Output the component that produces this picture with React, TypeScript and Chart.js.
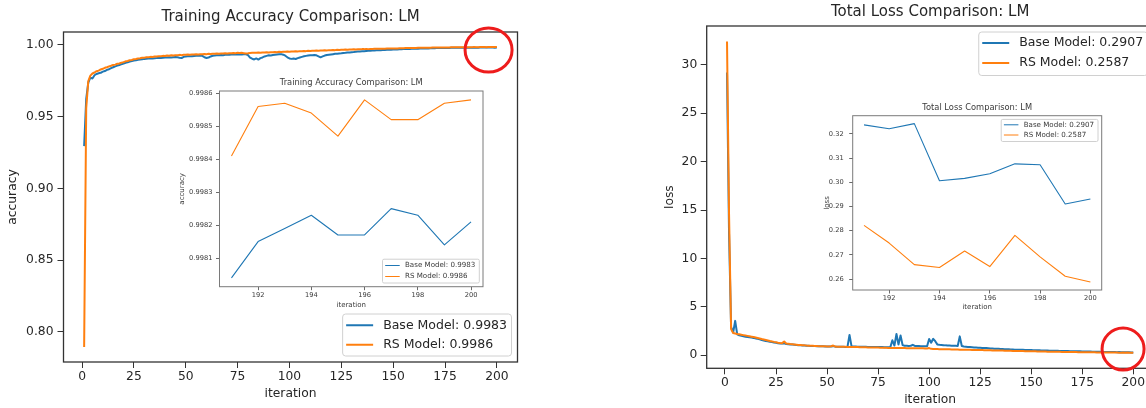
import React, { useEffect, useRef } from "react";
import { Chart, registerables } from "chart.js";

Chart.register(...registerables);

const FONT_FAMILY = '"DejaVu Sans", "Liberation Sans", sans-serif';
const BLUE = "#1f77b4";
const ORANGE = "#ff7f0e";

// iterations 1..200 (x categories)
const ITERATIONS: number[] = Array.from({ length: 200 }, (_, i) => i + 1);

const ACC_BASE = [
  0.9295, 0.9625, 0.9738, 0.9772, 0.9766, 0.9789, 0.9798, 0.9803, 0.9806, 0.9814,
  0.9818, 0.9826, 0.9831, 0.9839, 0.9845, 0.9851, 0.9856, 0.986, 0.9866, 0.987,
  0.9876, 0.9879, 0.9884, 0.9888, 0.9892, 0.9894, 0.9897, 0.9899, 0.99, 0.9903,
  0.9904, 0.9905, 0.9907, 0.9906, 0.9908, 0.9909, 0.9911, 0.9909, 0.991, 0.9912,
  0.9913, 0.9914, 0.9913, 0.9915, 0.9916, 0.9914, 0.9911, 0.9909, 0.9917, 0.992,
  0.9921, 0.9922, 0.9921, 0.9923, 0.9924, 0.9925, 0.9926, 0.9924, 0.9914, 0.9909,
  0.9912, 0.992, 0.9925, 0.9927, 0.9928, 0.9929, 0.993, 0.9929, 0.9931, 0.9932,
  0.9931, 0.9933, 0.9934, 0.9933, 0.9934, 0.9935, 0.9934, 0.9936, 0.9935, 0.993,
  0.9912, 0.9904, 0.9899, 0.9906, 0.9898, 0.9908, 0.9913, 0.992, 0.9924, 0.9928,
  0.9927, 0.993, 0.9932, 0.9934, 0.9935, 0.9936, 0.9932, 0.9925, 0.9914, 0.9906,
  0.9903, 0.9905, 0.9902, 0.9908, 0.9913, 0.9917, 0.9921, 0.9924, 0.9926, 0.9928,
  0.9929, 0.993, 0.9928, 0.9921, 0.9914, 0.992, 0.9926, 0.993, 0.9932, 0.9934,
  0.9936, 0.9938, 0.9939, 0.9941, 0.9942, 0.9944, 0.9945, 0.9947, 0.9948, 0.995,
  0.9951, 0.9953, 0.9954, 0.9955, 0.9956, 0.9957, 0.9958, 0.9959, 0.996, 0.9961,
  0.9962, 0.9963, 0.9963, 0.9964, 0.9965, 0.9965, 0.9966, 0.9967, 0.9967, 0.9968,
  0.9969, 0.9969, 0.997, 0.997, 0.9971, 0.9971, 0.9972, 0.9972, 0.9973, 0.9973,
  0.9974, 0.9974, 0.9975, 0.9975, 0.9975, 0.9976, 0.9976, 0.9977, 0.9977, 0.9977,
  0.9978, 0.9978, 0.9978, 0.9979, 0.9979, 0.9979, 0.9979, 0.998, 0.998, 0.998,
  0.99799, 0.998, 0.99801, 0.99802, 0.99803, 0.99804, 0.99805, 0.99805, 0.99806, 0.99806,
  0.99804, 0.99815, 0.99819, 0.99823, 0.99817, 0.99817, 0.99825, 0.99823, 0.99814, 0.99821,
];

const ACC_RS = [
  0.7895, 0.956, 0.9748, 0.9786, 0.9801, 0.9808, 0.9817, 0.9821, 0.9829, 0.9834,
  0.9841, 0.9845, 0.9851, 0.9855, 0.9861, 0.9863, 0.9869, 0.9871, 0.9877, 0.988,
  0.9886, 0.9888, 0.9894, 0.9895, 0.9901, 0.9902, 0.9906, 0.9907, 0.9911, 0.9911,
  0.9914, 0.9914, 0.9917, 0.9916, 0.992, 0.9919, 0.9922, 0.9921, 0.9924, 0.9923,
  0.9926, 0.9925, 0.9928, 0.9927, 0.9929, 0.9928, 0.9931, 0.9929, 0.9932, 0.9931,
  0.9933, 0.9932, 0.9934, 0.9933, 0.9935, 0.9934, 0.9936, 0.9935, 0.9937, 0.9936,
  0.9938, 0.9937, 0.9939, 0.9938, 0.994, 0.9939, 0.9941, 0.994, 0.9942, 0.9941,
  0.9943, 0.9942, 0.9944, 0.9943, 0.9945, 0.9944, 0.9945, 0.9943, 0.9941, 0.9942,
  0.9944, 0.9945, 0.9946, 0.9945, 0.9947, 0.9946, 0.9948, 0.9947, 0.9949, 0.9948,
  0.995, 0.9949, 0.9951, 0.995, 0.9952, 0.9951, 0.9953, 0.9952, 0.9954, 0.9953,
  0.9955, 0.9954, 0.9956, 0.9955, 0.9957, 0.9956, 0.9958, 0.9957, 0.9959, 0.9958,
  0.996, 0.9959, 0.9961, 0.996, 0.9962, 0.9961, 0.9963, 0.9962, 0.9964, 0.9963,
  0.9965, 0.9964, 0.9966, 0.9965, 0.9967, 0.9966, 0.9968, 0.9967, 0.9969, 0.9968,
  0.997, 0.9969, 0.997, 0.997, 0.9971, 0.9971, 0.9972, 0.9971, 0.9972, 0.9972,
  0.9973, 0.9973, 0.9974, 0.9973, 0.9974, 0.9974, 0.9975, 0.9975, 0.9976, 0.9975,
  0.9976, 0.9976, 0.9977, 0.9977, 0.9977, 0.9978, 0.9978, 0.9978, 0.9979, 0.9979,
  0.9979, 0.998, 0.998, 0.998, 0.9981, 0.9981, 0.9981, 0.9981, 0.9982, 0.9982,
  0.9982, 0.9982, 0.9983, 0.9983, 0.9983, 0.9983, 0.9983, 0.9984, 0.9984, 0.9984,
  0.9984, 0.99842, 0.99845, 0.99843, 0.99846, 0.99848, 0.99846, 0.99849, 0.9985, 0.99848,
  0.99841, 0.99856, 0.99857, 0.99854, 0.99847, 0.99858, 0.99852, 0.99852, 0.99857, 0.99858,
];

const LOSS_BASE = [
  29.2, 12.5, 2.9, 2.35, 3.55, 2.15, 2.05, 2.0, 1.96, 1.92,
  1.89, 1.86, 1.82, 1.79, 1.74, 1.7, 1.64, 1.58, 1.53, 1.48,
  1.44, 1.4, 1.36, 1.32, 1.28, 1.24, 1.22, 1.2, 1.23, 1.17,
  1.14, 1.12, 1.1, 1.08, 1.06, 1.04, 1.03, 1.01, 1.0, 0.98,
  0.97, 0.96, 0.95, 0.95, 0.94, 0.93, 0.92, 0.92, 0.91, 0.9,
  0.9, 0.91, 0.94, 0.89, 0.88, 0.88, 0.87, 0.87, 0.86, 0.86,
  2.1, 0.92, 0.9, 0.9, 0.89, 0.88, 0.88, 0.87, 0.87, 0.86,
  0.86, 0.86, 0.85, 0.85, 0.85, 0.84, 0.84, 0.83, 0.83, 0.82,
  0.84, 1.55, 1.0, 2.2, 1.1, 2.05, 1.05, 0.98, 0.97, 0.96,
  0.98, 1.08, 0.96, 0.95, 0.95, 0.94, 0.93, 0.93, 0.92, 1.68,
  1.3, 1.7, 1.45, 1.12, 1.08, 1.06, 1.04, 1.02, 1.01, 1.0,
  0.99, 0.98, 0.97, 0.96, 1.95, 0.95, 0.9, 0.88, 0.86, 0.84,
  0.82, 0.8, 0.79, 0.78, 0.77, 0.76, 0.75, 0.74, 0.72, 0.7,
  0.69, 0.68, 0.67, 0.66, 0.65, 0.64, 0.63, 0.62, 0.61, 0.6,
  0.59, 0.58, 0.575, 0.57, 0.56, 0.555, 0.55, 0.54, 0.535, 0.53,
  0.52, 0.515, 0.51, 0.505, 0.5, 0.49, 0.485, 0.48, 0.475, 0.47,
  0.465, 0.46, 0.455, 0.45, 0.445, 0.44, 0.435, 0.43, 0.425, 0.42,
  0.415, 0.41, 0.405, 0.4, 0.395, 0.39, 0.385, 0.38, 0.375, 0.37,
  0.365, 0.36, 0.355, 0.35, 0.345, 0.34, 0.336, 0.332, 0.329, 0.326,
  0.3237, 0.3221, 0.3242, 0.3006, 0.3016, 0.3035, 0.3076, 0.3072, 0.291, 0.2931,
];

const LOSS_RS = [
  32.4, 14.5, 2.7, 2.3, 2.25, 2.2, 2.16, 2.12, 2.08, 2.04,
  2.0, 1.96, 1.92, 1.88, 1.83, 1.78, 1.73, 1.67, 1.62, 1.57,
  1.52, 1.47, 1.43, 1.38, 1.34, 1.3, 1.27, 1.25, 1.42, 1.21,
  1.18, 1.15, 1.13, 1.11, 1.09, 1.07, 1.05, 1.03, 1.02, 1.0,
  0.99, 0.98, 0.97, 0.96, 0.95, 0.94, 0.93, 0.93, 0.92, 0.91,
  0.91, 0.93, 1.0, 0.9, 0.89, 0.88, 0.88, 0.87, 0.87, 0.86,
  0.86, 0.85, 0.85, 0.84, 0.84, 0.83, 0.83, 0.82, 0.82, 0.81,
  0.81, 0.8, 0.8, 0.79, 0.79, 0.78, 0.78, 0.77, 0.77, 0.76,
  0.76, 0.76, 0.75, 0.75, 0.75, 0.74, 0.74, 0.74, 0.73, 0.73,
  0.73, 0.72, 0.72, 0.72, 0.71, 0.71, 0.71, 0.7, 0.7, 0.74,
  0.66, 0.65, 0.64, 0.64, 0.63, 0.63, 0.62, 0.62, 0.61, 0.61,
  0.6, 0.6, 0.59, 0.59, 0.58, 0.58, 0.57, 0.57, 0.56, 0.56,
  0.55, 0.55, 0.54, 0.54, 0.53, 0.53, 0.52, 0.52, 0.51, 0.51,
  0.5, 0.5, 0.49, 0.49, 0.48, 0.48, 0.47, 0.47, 0.46, 0.46,
  0.45, 0.45, 0.44, 0.44, 0.43, 0.43, 0.42, 0.42, 0.41, 0.41,
  0.405, 0.4, 0.395, 0.39, 0.385, 0.38, 0.378, 0.374, 0.37, 0.366,
  0.362, 0.358, 0.354, 0.35, 0.346, 0.343, 0.34, 0.336, 0.333, 0.33,
  0.327, 0.324, 0.321, 0.318, 0.315, 0.312, 0.309, 0.306, 0.303, 0.3,
  0.298, 0.296, 0.294, 0.292, 0.29, 0.289, 0.287, 0.286, 0.284, 0.283,
  0.2822, 0.2749, 0.266, 0.2648, 0.2716, 0.2652, 0.2781, 0.2692, 0.2612, 0.2588,
];

const MAIN_X_TICKS = [0, 25, 50, 75, 100, 125, 150, 175, 200];
const ACC_Y_TICKS = [0.8, 0.85, 0.9, 0.95, 1.0];
const LOSS_Y_TICKS = [0, 5, 10, 15, 20, 25, 30];
const INSET_X_TICKS = [192, 194, 196, 198, 200];
const ACC_INSET_Y_TICKS = [0.9981, 0.9982, 0.9983, 0.9984, 0.9985, 0.9986];
const LOSS_INSET_Y_TICKS = [0.26, 0.27, 0.28, 0.29, 0.3, 0.31, 0.32];

const ACC_LABELS = ["Base Model: 0.9983", "RS Model: 0.9986"];
const LOSS_LABELS = ["Base Model: 0.2907", "RS Model: 0.2587"];
const ACC_TITLE = "Training Accuracy Comparison: LM";
const LOSS_TITLE = "Total Loss Comparison: LM";

const INSET_COUNT = 10;
const ACC_MARK = [196, 0.9965];
const LOSS_MARK = [195, 0.64];

// ---------- plugins ----------
const framePlugin = {
  id: "mplFrame",
  afterDatasetsDraw(chart: any, _a: any, opts: any) {
    if (!opts || !opts.color) return;
    const { ctx, chartArea } = chart;
    ctx.save();
    ctx.strokeStyle = opts.color;
    ctx.lineWidth = opts.width;
    ctx.strokeRect(chartArea.left, chartArea.top, chartArea.right - chartArea.left, chartArea.bottom - chartArea.top);
    ctx.restore();
  },
};

const legendPlugin = {
  id: "mplLegend",
  afterDraw(chart: any, _a: any, o: any) {
    if (!o || !o.fontSize) return;
    const { ctx, chartArea } = chart;
    const items = chart.data.datasets.map((d: any) => ({ text: d.label, color: d.borderColor }));
    ctx.save();
    ctx.font = `${o.fontSize}px ${FONT_FAMILY}`;
    const tw = Math.max(...items.map((it: any) => ctx.measureText(it.text).width));
    const w = o.padL + o.lineLen + o.gap + tw + o.padR;
    const h = o.padT + items.length * o.rowH + o.padB;
    const x = chartArea.right - o.offset - w;
    const y = o.corner === "upper right" ? chartArea.top + o.offset : chartArea.bottom - o.offset - h;
    ctx.beginPath();
    (ctx as any).roundRect(x, y, w, h, o.radius);
    ctx.fillStyle = "rgba(255,255,255,0.85)";
    ctx.fill();
    ctx.strokeStyle = o.borderColor;
    ctx.lineWidth = 1;
    ctx.stroke();
    items.forEach((it: any, i: number) => {
      const cy = y + o.padT + o.rowH * (i + 0.5);
      ctx.beginPath();
      ctx.moveTo(x + o.padL, cy);
      ctx.lineTo(x + o.padL + o.lineLen, cy);
      ctx.strokeStyle = it.color;
      ctx.lineWidth = o.lineWidth;
      ctx.stroke();
      ctx.fillStyle = o.textColor;
      ctx.textBaseline = "middle";
      ctx.textAlign = "left";
      ctx.fillText(it.text, x + o.padL + o.lineLen + o.gap, cy);
    });
    ctx.restore();
  },
};

const markPlugin = {
  id: "mplMark",
  afterDraw(chart: any, _a: any, o: any) {
    if (!o || !o.point) return;
    const { ctx, scales } = chart;
    const cx = scales.x.getPixelForValue(o.point[0]);
    const cy = scales.y.getPixelForValue(o.point[1]);
    ctx.save();
    ctx.beginPath();
    ctx.ellipse(cx, cy, o.rx, o.ry, 0, 0, Math.PI * 2);
    ctx.strokeStyle = o.color;
    ctx.lineWidth = o.lineWidth;
    ctx.stroke();
    ctx.restore();
  },
};

Chart.register(framePlugin as any, legendPlugin as any, markPlugin as any);

function padded(arrs: number[][]): [number, number] {
  let lo = Infinity;
  let hi = -Infinity;
  for (const a of arrs) for (const v of a) { lo = Math.min(lo, v); hi = Math.max(hi, v); }
  const m = (hi - lo) * 0.05;
  return [lo - m, hi + m];
}

function buildConfig(p: any): any {
  const [xmin, xmax] = padded([p.xs]);
  const [ymin, ymax] = padded([p.base, p.rs]);
  const font = (size: number) => ({ family: FONT_FAMILY, size, weight: "normal", lineHeight: 1.2 });
  const grid = {
    display: true,
    drawOnChartArea: false,
    drawTicks: true,
    tickLength: p.tickLen,
    tickColor: p.tickColor,
    color: p.tickColor,
    lineWidth: 1,
  };
  return {
    type: "line",
    data: {
      datasets: [
        {
          label: p.labels[0],
          data: p.xs.map((x: number, i: number) => ({ x, y: p.base[i] })),
          borderColor: BLUE,
          backgroundColor: BLUE,
          borderWidth: p.lineWidth,
          pointRadius: 0,
          tension: 0,
          borderJoinStyle: "round",
          order: 1,
        },
        {
          label: p.labels[1],
          data: p.xs.map((x: number, i: number) => ({ x, y: p.rs[i] })),
          borderColor: ORANGE,
          backgroundColor: ORANGE,
          borderWidth: p.lineWidth,
          pointRadius: 0,
          tension: 0,
          borderJoinStyle: "round",
          order: 0,
        },
      ],
    },
    options: {
      responsive: false,
      animation: false,
      devicePixelRatio: 1,
      events: [],
      layout: { padding: p.padding },
      plugins: {
        legend: { display: false },
        tooltip: { enabled: false },
        title: {
          display: true,
          text: p.title,
          color: p.textColor,
          font: font(p.fonts.title),
          padding: p.titlePad,
          fullSize: false,
        },
        mplFrame: p.frame,
        mplLegend: p.legend,
        mplMark: p.mark || false,
      },
      scales: {
        x: {
          type: "linear",
          min: xmin,
          max: xmax,
          afterBuildTicks: (s: any) => { s.ticks = p.xTicks.map((v: number) => ({ value: v })); },
          afterFit: (s: any) => { s.height = p.xAxisHeight; },
          ticks: {
            autoSkip: false,
            maxRotation: 0,
            minRotation: 0,
            padding: p.xTickPad,
            color: p.textColor,
            font: font(p.fonts.tick),
            callback: (v: any) => String(v),
          },
          grid,
          border: { display: false },
          title: {
            display: true,
            text: "iteration",
            color: p.textColor,
            font: font(p.fonts.axis),
            padding: { top: 0, bottom: p.xTitlePad },
          },
        },
        y: {
          type: "linear",
          min: ymin,
          max: ymax,
          afterBuildTicks: (s: any) => { s.ticks = p.yTicks.map((v: number) => ({ value: v })); },
          afterFit: (s: any) => { s.width = p.yAxisWidth; },
          ticks: {
            autoSkip: false,
            padding: p.yTickPad,
            color: p.textColor,
            font: font(p.fonts.tick),
            callback: (v: any) => Number(v).toFixed(p.yDecimals),
          },
          grid,
          border: { display: false },
          title: {
            display: true,
            text: p.yTitle,
            color: p.textColor,
            font: font(p.fonts.axis),
            padding: { top: p.yTitlePad, bottom: 0 },
          },
        },
      },
    },
  };
}

const MAIN_FONTS = { title: 15, tick: 12.3, axis: 12.3 };
const INSET_FONTS = { title: 8.3, tick: 6.7, axis: 7 };
const MAIN_LEGEND = {
  fontSize: 12.5, rowH: 19.5, padT: 1.5, padB: 1.5, padL: 3.5, lineLen: 27, gap: 10, padR: 4.5,
  offset: 6, lineWidth: 2, radius: 3, borderColor: "#d0d0d0", textColor: "#262626",
};
const INSET_LEGEND = {
  fontSize: 7.1, rowH: 11, padT: 0.8, padB: 1, padL: 2.7, lineLen: 14.5, gap: 5.3, padR: 4,
  offset: 3.7, lineWidth: 1, radius: 1.5, borderColor: "#d0d0d0", textColor: "#3a3a3a",
};
const MARK_STYLE = { color: "#ee1c1c", lineWidth: 3 };

const PANELS = [
  {
    box: { left: 0, top: 0, width: 573, height: 408 },
    spec: {
      xs: ITERATIONS, base: ACC_BASE, rs: ACC_RS, labels: ACC_LABELS,
      title: ACC_TITLE, yTitle: "accuracy", xTicks: MAIN_X_TICKS, yTicks: ACC_Y_TICKS, yDecimals: 2,
      fonts: MAIN_FONTS, titlePad: { top: 8, bottom: 6 },
      padding: { left: 0, right: 55.5, top: 0, bottom: 0 },
      yAxisWidth: 63.5, xAxisHeight: 46, yTitlePad: 5.6, xTitlePad: 6.6,
      tickLen: 6, yTickPad: 4, xTickPad: 1.5, lineWidth: 2,
      frame: { color: "#333333", width: 1.3 }, textColor: "#262626", tickColor: "#333333",
      legend: { ...MAIN_LEGEND, corner: "lower right" },
      mark: { point: ACC_MARK, rx: 23.5, ry: 22, ...MARK_STYLE },
    },
  },
  {
    box: { left: 573, top: 0, width: 600, height: 408 },
    spec: {
      xs: ITERATIONS, base: LOSS_BASE, rs: LOSS_RS, labels: LOSS_LABELS,
      title: LOSS_TITLE, yTitle: "loss", xTicks: MAIN_X_TICKS, yTicks: LOSS_Y_TICKS, yDecimals: 0,
      fonts: MAIN_FONTS, titlePad: { top: 3, bottom: 5 },
      padding: { left: 0, right: 19.4, top: 0, bottom: 0 },
      yAxisWidth: 133.7, xAxisHeight: 39.7, yTitlePad: 89.6, xTitlePad: 0.6,
      tickLen: 6, yTickPad: 3.5, xTickPad: 1.3, lineWidth: 2,
      frame: { color: "#333333", width: 1.3 }, textColor: "#262626", tickColor: "#333333",
      legend: { ...MAIN_LEGEND, corner: "upper right", rowH: 20, padT: 1, padB: 2.5 },
      mark: { point: LOSS_MARK, rx: 21, ry: 21, ...MARK_STYLE },
    },
  },
  {
    box: { left: 170, top: 70, width: 320, height: 245 },
    spec: {
      xs: ITERATIONS.slice(-INSET_COUNT), base: ACC_BASE.slice(-INSET_COUNT), rs: ACC_RS.slice(-INSET_COUNT),
      labels: ACC_LABELS, title: ACC_TITLE, yTitle: "accuracy", xTicks: INSET_X_TICKS, yTicks: ACC_INSET_Y_TICKS,
      yDecimals: 4, fonts: INSET_FONTS, titlePad: { top: 8, bottom: 3.04 },
      padding: { left: 0, right: 7, top: 0, bottom: 0 },
      yAxisWidth: 49.5, xAxisHeight: 28.3, yTitlePad: 7.5, xTitlePad: 5.8,
      tickLen: 3.5, yTickPad: 3.5, xTickPad: 0.8, lineWidth: 1.1,
      frame: { color: "#7a7a7a", width: 1 }, textColor: "#3a3a3a", tickColor: "#6a6a6a",
      legend: { ...INSET_LEGEND, corner: "lower right" },
    },
  },
  {
    box: { left: 800, top: 95, width: 310, height: 220 },
    spec: {
      xs: ITERATIONS.slice(-INSET_COUNT), base: LOSS_BASE.slice(-INSET_COUNT), rs: LOSS_RS.slice(-INSET_COUNT),
      labels: LOSS_LABELS, title: LOSS_TITLE, yTitle: "loss", xTicks: INSET_X_TICKS, yTicks: LOSS_INSET_Y_TICKS,
      yDecimals: 2, fonts: INSET_FONTS, titlePad: { top: 8.3, bottom: 2.44 },
      padding: { left: 0, right: 8.3, top: 0, bottom: 0 },
      yAxisWidth: 52.7, xAxisHeight: 25, yTitlePad: 22.5, xTitlePad: 4.1,
      tickLen: 3.5, yTickPad: 5.5, xTickPad: 0.5, lineWidth: 1.1,
      frame: { color: "#7a7a7a", width: 1 }, textColor: "#3a3a3a", tickColor: "#6a6a6a",
      legend: { ...INSET_LEGEND, corner: "upper right", rowH: 10.2, padT: 0.3, padB: 1.4 },
    },
  },
];

export default function App() {
  const refs = useRef<(HTMLCanvasElement | null)[]>([]);

  useEffect(() => {
    const charts = PANELS.map((panel, i) => {
      const canvas = refs.current[i] as HTMLCanvasElement;
      return new Chart(canvas, buildConfig(panel.spec));
    });
    return () => charts.forEach((c) => c.destroy());
  }, []);

  return (
    <div
      style={{
        position: "absolute",
        left: 0,
        top: 0,
        width: 1146,
        height: 408,
        overflow: "hidden",
        background: "#ffffff",
      }}
    >
      {PANELS.map((panel, i) => (
        <canvas
          key={i}
          ref={(el) => { refs.current[i] = el; }}
          width={panel.box.width}
          height={panel.box.height}
          style={{
            position: "absolute",
            left: panel.box.left,
            top: panel.box.top,
            width: panel.box.width,
            height: panel.box.height,
          }}
        />
      ))}
    </div>
  );
}
